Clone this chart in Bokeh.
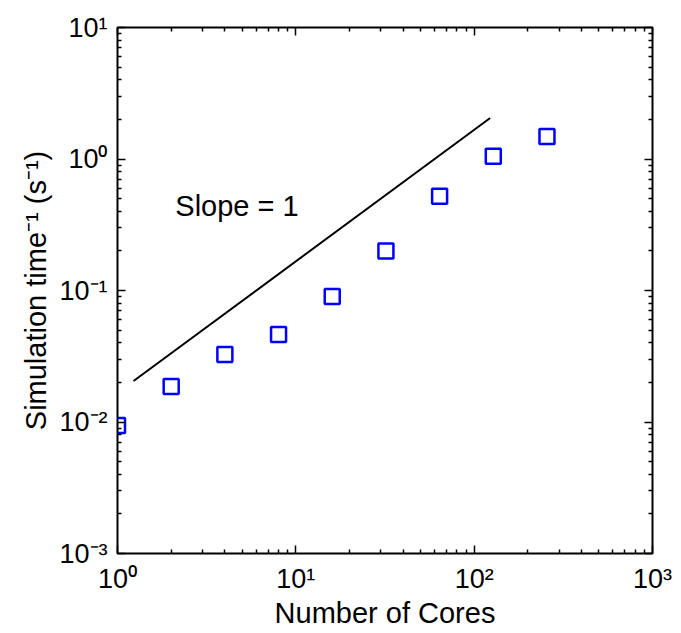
from bokeh.plotting import figure
from bokeh.models import LogAxis, CustomJSTickFormatter, Range1d, Label, FixedTicker
from bokeh.embed import file_html
from bokeh.resources import INLINE

cores = [1, 2, 4, 8, 16, 32, 64, 128, 256]
speed = [0.0094, 0.0186, 0.0326, 0.0463, 0.090, 0.20, 0.52, 1.05, 1.48]
slope_x = [1.23, 123]
slope_y = [0.0205, 2.05]
x_ticks = [1, 10, 100, 1000]
y_ticks = [0.001, 0.01, 0.1, 1, 10]

FONT = "Liberation Sans"

p = figure(frame_width=535, frame_height=526, x_axis_type="log", y_axis_type="log",
           x_range=Range1d(1, 1000), y_range=Range1d(0.001, 10),
           output_backend="svg", toolbar_location=None,
           min_border_left=117, min_border_right=21, min_border_top=27, min_border_bottom=0)
p.xgrid.visible = False
p.ygrid.visible = False
p.outline_line_color = "black"
p.outline_line_width = 2
p.background_fill_color = "white"
p.border_fill_color = "white"

fmt = CustomJSTickFormatter(code="""
const e = Math.round(Math.log10(tick));
const sup = {'-':'\u207B','0':'\u2070','1':'\u00B9','2':'\u00B2','3':'\u00B3','4':'\u2074','5':'\u2075','6':'\u2076','7':'\u2077','8':'\u2078','9':'\u2079'};
return '10' + String(e).split('').map(c => sup[c]).join('');
""")
blank = CustomJSTickFormatter(code="return '';")

x_minor = [m * d for d in [1, 10, 100] for m in range(2, 10)]
y_minor = [m * d for d in [0.001, 0.01, 0.1, 1] for m in range(2, 10)]

def style(ax):
    ax.axis_line_color = None
    ax.major_tick_in = 8
    ax.major_tick_out = 0
    ax.minor_tick_in = 4
    ax.minor_tick_out = 0
    ax.major_tick_line_color = "black"
    ax.minor_tick_line_color = "black"
    ax.major_tick_line_width = 1.5
    ax.minor_tick_line_width = 1.5
    ax.major_label_text_font = FONT
    ax.major_label_text_font_size = "27px"
    ax.major_label_text_color = "black"
    ax.axis_label_text_font = FONT
    ax.axis_label_text_font_size = "29px"
    ax.axis_label_text_font_style = "normal"
    ax.axis_label_text_color = "black"

p.xaxis.ticker = FixedTicker(ticks=x_ticks, minor_ticks=x_minor)
p.yaxis.ticker = FixedTicker(ticks=y_ticks, minor_ticks=y_minor)
p.xaxis.formatter = fmt
p.yaxis.formatter = fmt
p.xaxis.axis_label = "Number of Cores"
p.yaxis.axis_label = "Simulation time\u207B\u00B9 (s\u207B\u00B9)"
style(p.xaxis[0])
style(p.yaxis[0])
p.xaxis.major_label_standoff = 10
p.yaxis.major_label_standoff = 10
p.xaxis.axis_label_standoff = 0
p.yaxis.axis_label_standoff = 4

top = LogAxis(ticker=FixedTicker(ticks=x_ticks, minor_ticks=x_minor), formatter=blank)
right = LogAxis(ticker=FixedTicker(ticks=y_ticks, minor_ticks=y_minor), formatter=blank)
style(top)
style(right)
top.major_label_standoff = 0
right.major_label_standoff = 0
p.add_layout(top, "above")
p.add_layout(right, "right")

p.line(slope_x, slope_y, line_color="black", line_width=2)
p.scatter(cores, speed, marker="square", size=15, fill_color=None, line_color="#0000ff", line_width=2.5)

p.add_layout(Label(x=2.11, y=0.44, text="Slope = 1", text_font=FONT, text_font_size="29px",
                   text_baseline="middle", text_color="black"))

open("out.html", "w").write(file_html(p, INLINE))
